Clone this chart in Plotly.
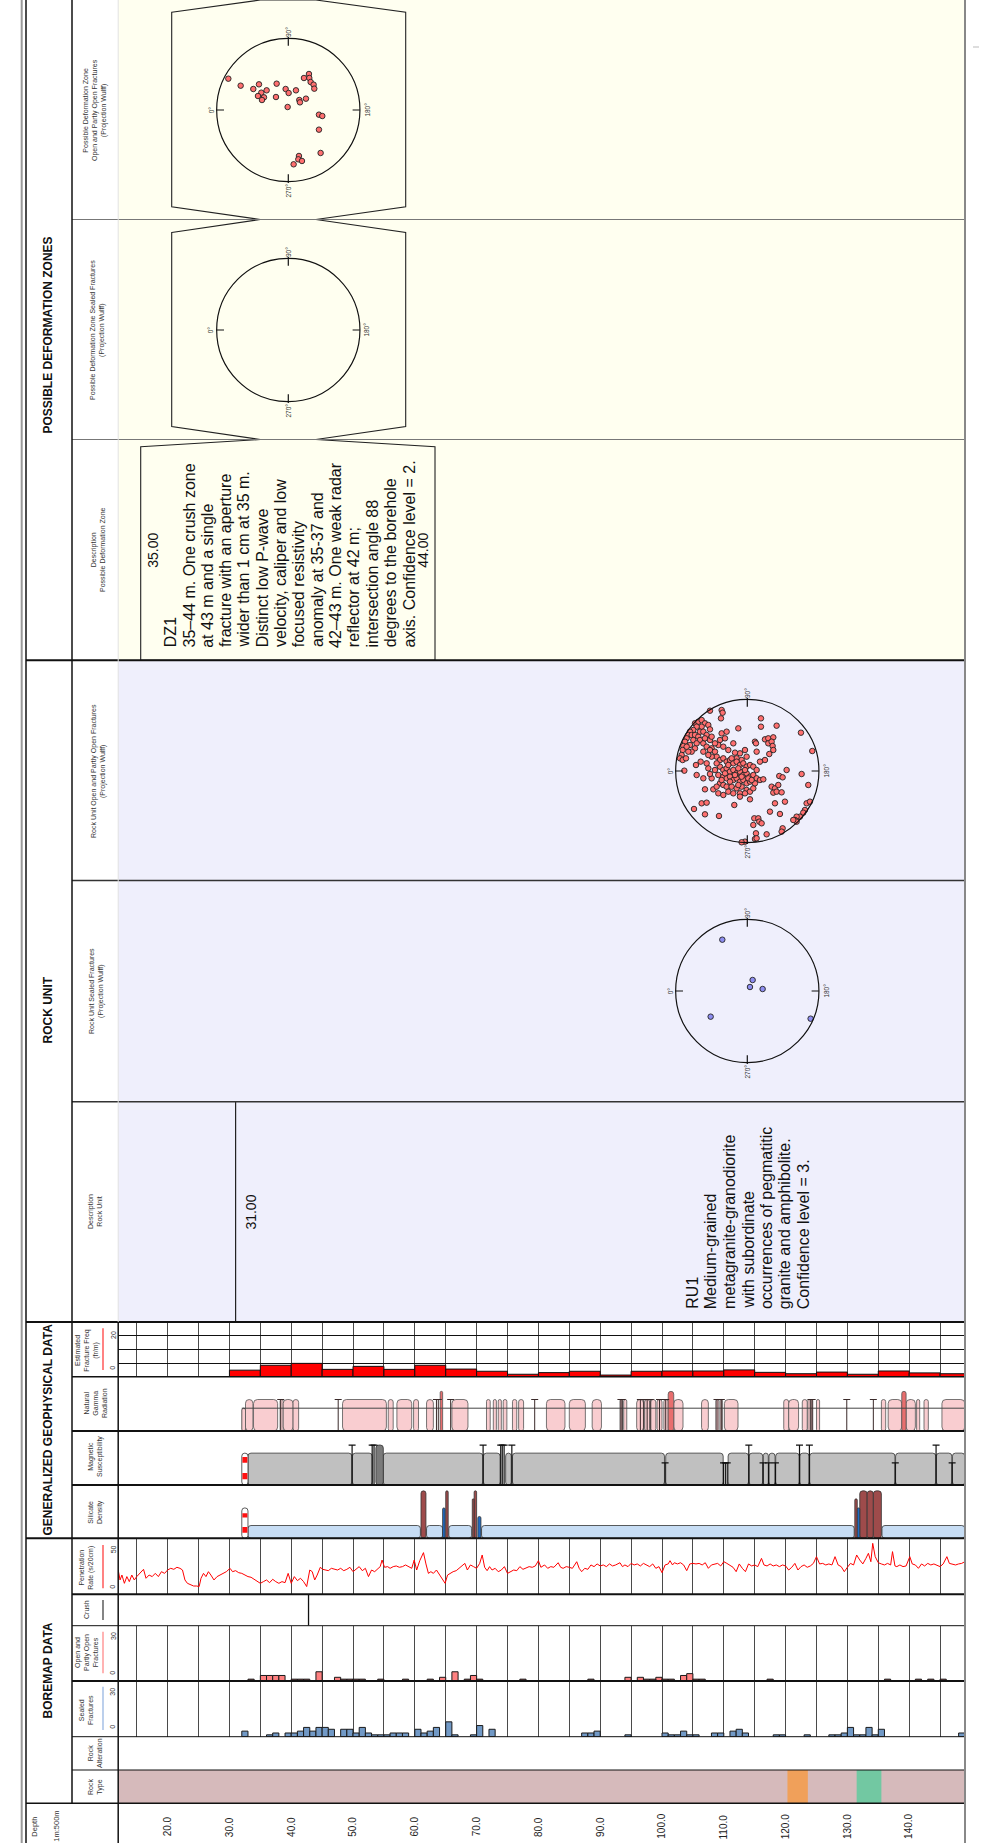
import plotly.graph_objects as go

# ======================= DATA =======================
DEPTH_MIN, DEPTH_MAX = 12.0, 149.0
depth_ticks = [20, 30, 40, 50, 60, 70, 80, 90, 100, 110, 120, 130, 140]
depth_tick_labels = ["20.0", "30.0", "40.0", "50.0", "60.0", "70.0", "80.0",
                     "90.0", "100.0", "110.0", "120.0", "130.0", "140.0"]

# Rock type intervals
rock_type_start = [12.0, 120.3, 131.5]
rock_type_end = [149.0, 123.6, 135.5]
rock_type_color = ["#D6BABB", "#F0A05A", "#72C8A2"]

# Sealed fractures (1 m bins, count)
sealed_depth = [32, 36, 37, 39, 40, 41, 42, 43, 44, 45, 46, 48, 49, 50, 51, 52, 53, 54, 55, 56,
                57, 58, 60, 61, 62, 63, 65, 66, 69, 70, 72, 87, 88, 89, 94, 100, 101, 102, 103, 104,
                105, 108, 109, 111, 112, 113, 118, 119, 123, 127, 128, 129, 130, 131, 132, 133, 134, 135, 148]
sealed_count = [3, 1, 2, 2, 2, 3, 5, 3, 5, 5, 4, 4, 4, 2, 5, 2, 1, 1, 1, 2,
                2, 2, 4, 2, 3, 5, 8, 1, 1, 6, 4, 2, 2, 3, 1, 2, 1, 1, 3, 1,
                1, 2, 2, 3, 4, 2, 1, 1, 1, 1, 1, 2, 5, 1, 1, 5, 1, 4, 2]

# Open fractures (1 m bins)
open_depth = [35, 36, 37, 38, 44, 47, 64, 66, 69, 94, 96, 99, 103, 104]
open_count = [3, 3, 3, 3, 5, 2, 2, 5, 3, 2, 2, 2, 3, 4]
# Partly open fractures (1 m bins)
partly_depth = [33, 40, 41, 42, 48, 49, 50, 51, 54, 58, 62, 68, 70, 77, 88, 97, 98, 100, 101,
                105, 106, 117, 136, 141, 143, 145]
partly_count = [1] * 26

# Crush
crush_depth = [42.8]

# Penetration rate (s/20cm)
pen_depth = [12.0, 12.3, 12.6, 13.0, 13.4, 13.8, 14.2, 14.6, 15.0, 15.5, 16.1, 16.5, 17.0, 17.5, 18.0,
             18.5, 19.0, 19.5, 20.0, 20.5, 21.0, 21.5, 22.0, 22.4, 22.8, 23.2, 23.7, 24.2, 24.7, 25.1,
             25.4, 25.8, 26.2, 26.6, 27.0, 27.5, 28.0, 28.5, 29.0, 29.5, 30.1, 30.5, 31.0, 31.5, 32.0,
             32.5, 33.0, 33.5, 34.0, 34.5, 35.0, 35.5, 36.0, 36.5, 37.0, 37.5, 38.0, 38.5, 39.0, 39.5,
             40.0, 40.5, 41.0, 41.5, 42.0, 42.5, 43.0, 43.4, 43.8, 44.2, 44.7, 45.1, 45.5, 46.0, 46.5,
             47.0, 47.5, 48.0, 48.5, 49.0, 49.5, 50.0, 50.5, 51.0, 51.5, 52.0, 52.5, 53.0, 53.5, 54.0,
             54.4, 54.7, 55.1, 55.6, 56.0, 56.5, 57.0, 57.5, 58.0, 58.5, 59.0, 59.5, 59.9, 60.3, 60.8,
             61.4, 61.8, 62.2, 62.6, 63.0, 63.5, 64.0, 64.5, 64.9, 65.3, 65.7, 66.2, 66.7, 67.2, 67.6,
             68.1, 68.5, 69.0, 69.5, 70.0, 70.5, 70.9, 71.3, 71.7, 72.1, 72.5, 73.0, 73.5, 74.0, 74.5,
             75.0, 75.5, 76.0, 76.5, 77.0, 77.5, 78.0, 78.5, 79.0, 79.5, 80.0, 80.4, 81.0, 81.5, 82.0,
             82.5, 83.2, 83.6, 84.0, 84.5, 85.0, 85.5, 86.2, 86.6, 87.0, 87.5, 88.0, 88.5, 89.0, 89.5,
             90.0, 90.5, 91.0, 91.5, 92.0, 92.5, 93.2, 93.6, 94.0, 94.5, 95.0, 95.5, 96.0, 96.5, 97.0,
             97.5, 98.0, 98.5, 99.0, 99.5, 100.0, 100.5, 101.0, 101.3, 101.7, 102.0, 102.5, 103.0, 103.5, 104.0,
             104.5, 105.0, 105.5, 106.0, 106.5, 107.0, 107.5, 108.0, 108.5, 109.0, 109.5, 110.0, 110.5, 111.0, 111.5,
             112.0, 112.5, 113.0, 113.5, 114.0, 114.5, 115.0, 115.5, 116.1, 116.5, 117.0, 117.5, 118.0, 118.5, 119.0,
             119.5, 120.0, 120.5, 121.0, 121.5, 122.0, 122.5, 123.0, 123.5, 124.0, 124.5, 125.0, 125.5, 126.0, 126.5,
             127.0, 127.5, 128.0, 128.5, 129.0, 129.5, 130.0, 130.5, 131.0, 131.5, 132.0, 132.5, 133.0, 133.4, 133.8,
             134.1, 134.5, 135.0, 135.5, 136.0, 136.5, 137.0, 137.3, 137.7, 138.0, 138.5, 139.0, 139.5, 140.1, 140.5,
             141.0, 141.5, 142.0, 142.5, 143.0, 143.5, 144.0, 144.5, 145.0, 145.5, 146.1, 146.5, 147.0, 147.5, 148.0,
             148.5, 149.0]
pen_rate = [21.7, 12.8, 17.2, 9.8, 15.8, 11.3, 17.2, 12.8, 15.8, 18.7, 22.3, 14.3, 17.2, 15.8, 18.7,
            15.8, 20.2, 18.7, 21.7, 23.2, 22.3, 24.1, 23.2, 21.7, 12.8, 9.8, 8.3, 7.4, 7.4, 6.9,
            14.3, 18.7, 15.8, 20.2, 17.2, 12.8, 15.8, 17.2, 18.7, 20.2, 23.2, 20.2, 21.1, 19.3, 18.7,
            17.2, 15.8, 15.2, 13.4, 12.2, 9.8, 11.3, 12.8, 10.4, 13.4, 11.3, 9.8, 11.3, 10.4, 18.7,
            9.8, 15.8, 12.2, 14.3, 11.3, 6.9, 21.7, 20.2, 12.8, 17.2, 24.1, 22.3, 21.7, 21.1, 23.2,
            22.3, 21.7, 23.2, 21.1, 22.3, 24.1, 20.2, 22.3, 24.7, 21.1, 23.2, 15.8, 21.7, 20.2, 23.2,
            24.7, 30.6, 24.1, 24.7, 23.2, 24.7, 25.3, 24.1, 24.7, 26.2, 24.7, 23.2, 30.6, 21.7, 30.0,
            37.2, 27.1, 18.7, 20.2, 18.7, 21.7, 17.2, 12.8, 9.8, 17.2, 18.7, 20.2, 21.1, 23.2, 24.7,
            27.6, 21.7, 26.2, 24.7, 23.2, 27.6, 35.1, 24.1, 21.1, 24.7, 21.7, 23.2, 20.2, 21.7, 24.7,
            18.7, 20.2, 21.7, 21.1, 24.7, 22.3, 23.2, 24.7, 24.1, 25.3, 30.0, 24.1, 26.2, 23.2, 24.7,
            24.1, 28.2, 24.1, 23.2, 24.7, 24.1, 23.2, 29.1, 23.2, 20.2, 23.2, 22.3, 26.2, 24.7, 27.1,
            25.3, 26.2, 24.7, 27.1, 25.3, 26.2, 28.2, 24.7, 26.2, 24.7, 27.6, 26.2, 27.1, 25.3, 27.6,
            26.2, 24.7, 27.1, 23.2, 24.7, 19.3, 26.2, 27.1, 30.0, 26.2, 28.2, 27.1, 28.2, 26.2, 21.1,
            27.1, 27.6, 27.1, 27.6, 26.2, 28.2, 23.2, 26.2, 27.1, 27.6, 25.3, 29.1, 27.6, 26.2, 24.1,
            20.2, 27.1, 23.2, 20.2, 27.1, 25.3, 26.2, 24.7, 32.1, 26.2, 25.3, 27.1, 25.3, 26.2, 24.7,
            26.2, 25.3, 21.7, 24.1, 27.6, 21.7, 24.7, 26.2, 24.1, 25.3, 27.6, 33.6, 27.1, 27.6, 26.2,
            27.1, 26.2, 33.6, 26.2, 24.7, 20.2, 24.1, 27.6, 26.2, 35.1, 30.6, 27.1, 32.1, 36.6, 29.1,
            45.5, 33.6, 28.2, 27.1, 26.2, 27.6, 26.2, 38.1, 25.3, 24.7, 26.2, 24.7, 25.3, 33.6, 27.1,
            26.2, 23.2, 27.1, 25.3, 27.6, 26.2, 27.1, 26.2, 24.7, 27.1, 33.6, 27.6, 27.1, 26.2, 27.1,
            27.6, 29.1]

# Estimated fracture frequency (fr/m), 5 m bins
fq_start = [30, 35, 40, 45, 50, 55, 60, 65, 70, 75, 80, 85, 90, 95, 100, 105, 110, 115, 120, 125,
            130, 135, 140, 145]
fq_value = [2.4, 4.2, 4.9, 2.7, 3.8, 2.7, 4.2, 2.8, 2.0, 0.9, 1.5, 2.0, 0.6, 2.0, 2.1, 2.1, 2.5, 1.6,
            1.1, 1.7, 0.9, 2.1, 1.4, 1.1]

# Silicate density classes (start, end, relative level, class)
sil_start = [33.0, 61.9, 65.5, 70.8, 135.6, 61.0, 65.0, 69.6, 132.0, 133.2, 134.2, 69.3, 131.2,
             64.5, 70.2, 131.6]
sil_end = [60.9, 64.5, 69.2, 131.1, 149.0, 61.8, 65.4, 70.0, 133.2, 134.2, 135.5, 69.6, 131.6,
           64.9, 70.7, 132.0]
sil_level = [0.24, 0.24, 0.24, 0.24, 0.24, 0.89, 0.89, 0.89, 0.89, 0.89, 0.89, 0.74, 0.74,
             0.57, 0.41, 0.57]
sil_class = ["low"] * 5 + ["high"] * 8 + ["mid"] * 3

# Magnetic susceptibility
mag_seg_start = [33.0, 49.9, 54.9, 71.1, 74.7, 75.8, 100.6, 110.7, 114.1, 116.4, 117.3, 118.4,
                 122.3, 123.9, 137.8, 144.4, 147.0]
mag_seg_end = [49.8, 53.1, 71.0, 73.8, 75.6, 100.4, 109.9, 114.0, 116.3, 117.2, 118.3, 122.2,
               123.8, 137.7, 144.3, 146.9, 149.0]
mag_seg_level = 0.59
mag_dark_start, mag_dark_end, mag_dark_level = [53.7], [54.9], [0.74]
mag_tall_lines = [49.85, 53.1, 53.4, 71.05, 73.9, 74.15, 74.45, 75.7, 114.05, 122.25, 123.85, 144.35]
mag_tall_level = 0.74
mag_mid_lines = [100.5, 109.95, 110.25, 110.55, 116.35, 117.25, 118.35, 137.75, 146.95]
mag_mid_level = 0.41

# Natural gamma radiation
gam_box_start = [32.6, 33.9, 38.2, 38.7, 40.3, 48.3, 55.7, 57.1, 59.8, 61.9, 66.0, 71.6, 72.7, 73.5,
                 74.3, 75.8, 76.8, 81.3, 85.0, 88.7, 93.2, 93.8, 95.9, 97.2, 98.2, 99.2, 100.3, 101.9,
                 106.4, 108.7, 109.4, 110.1, 119.7, 120.5, 122.7, 123.6, 124.0, 125.0, 135.5, 136.6,
                 139.5, 141.2, 142.4, 145.3]
gam_box_end = [33.8, 37.8, 38.7, 40.3, 41.2, 55.4, 56.5, 59.5, 60.6, 63.0, 68.6, 72.2, 73.2, 74.0,
               74.9, 76.5, 77.6, 84.3, 87.6, 90.2, 93.6, 94.3, 97.0, 98.0, 99.0, 100.0, 101.0, 103.4,
               107.5, 109.2, 109.8, 112.3, 120.5, 122.1, 123.5, 124.0, 124.4, 125.5, 136.2, 138.8,
               141.0, 141.7, 143.1, 149.0]
gam_box_level = 0.58
gam_low_start, gam_low_end, gam_low_level = [32.0], [32.6], [0.42]
gam_high_start = [64.1, 101.0, 138.8]
gam_high_end = [64.5, 101.9, 139.5]
gam_high_level = 0.73
gam_lines = [38.3, 47.6, 63.5, 63.8, 65.8, 79.4, 93.35, 93.55, 96.5, 97.05, 97.6, 98.1, 99.6,
             100.6, 108.9, 109.6, 124.1, 124.3, 129.9, 134.2]
gam_line_level = 0.58
gam_base_start, gam_base_end, gam_base_level = 32.0, 149.0, 0.42

# Uncertain-start marker (red/white) in silicate & magnetic tracks
marker_start, marker_end = 32.0, 33.0

# Stereonets (projection units, primitive radius = 215)
R_NET = 215
ru_open_pts = [(-112, 181), (-77, 183), (-74, 175), (-79, 158), (-157, 143), (-147, 148), (-137, 153),
               (-127, 143), (-117, 138), (-112, 125), (-137, 133), (-152, 133), (-162, 123), (-172, 118),
               (-177, 108), (-182, 98), (-187, 88), (-192, 75), (-194, 63), (-197, 48), (-202, 38),
               (-194, 33), (-184, 38), (-189, 1), (-167, 108), (-157, 108), (-147, 103), (-142, 93),
               (-132, 83), (-122, 73), (-107, 68), (-162, 93), (-152, 83), (-157, 68), (-132, 58),
               (-112, 63), (-77, 113), (-62, 118), (-27, 128), (-67, 98), (-82, 93), (-87, 78), (-72, 73),
               (-57, 63), (-42, 83), (-22, 53), (-37, 55), (-32, 38), (-17, 33), (-2, 43), (-7, 63),
               (-92, 43), (-82, 33), (-72, 38), (-62, 28), (-52, 33), (-42, 23), (-32, 28), (-22, 18),
               (-12, 23), (-2, 13), (8, 18), (18, 13), (28, 3), (-82, 13), (-72, 3), (-62, 8), (-52, -2),
               (-42, 3), (-32, -7), (-22, -2), (-12, -12), (-2, -7), (8, -17), (18, -12), (28, -22),
               (-97, 3), (-87, -12), (-72, -17), (-62, -22), (-52, -17), (-42, -27), (-32, -22),
               (-22, -32), (-12, -27), (-2, -37), (8, -32), (-82, -37), (-72, -42), (-62, -47),
               (-47, -47), (-32, -52), (-17, -47), (-2, -57), (-22, -67), (-22, -77), (-7, -67),
               (8, -62), (18, -52), (23, -37), (38, -27), (48, -25), (-107, -22), (-127, -55),
               (-102, -55), (-87, -67), (-72, -72), (-57, -62), (-42, -67), (-152, -12), (-132, -22),
               (-117, 8), (-112, -9), (-122, 23), (-140, 28), (-154, 18), (-92, 23), (-97, 58),
               (41, 158), (41, 133), (88, 136), (23, 88), (26, 83), (53, 95), (63, 98), (78, 101),
               (63, 83), (73, 88), (76, 75), (78, 63), (66, 51), (53, 33), (38, 28), (28, 58),
               (161, 115), (195, 60), (118, 3), (163, -9), (96, -15), (106, -19), (73, -47), (83, -52),
               (78, -65), (88, -62), (93, -42), (103, -64), (113, -92), (83, -97), (68, -122), (98, -129),
               (183, -42), (178, -97), (188, -92), (173, -117), (168, -125), (158, -137), (148, -137),
               (143, -147), (148, -152), (138, -147), (106, -172), (103, -182), (58, -190), (21, -142),
               (33, -142), (36, -152), (18, -162), (43, -157), (26, -187), (23, -204), (28, -202),
               (-7, -212), (-17, -214), (8, -85), (-39, -102), (-160, -114), (-137, -97), (-122, -95),
               (-127, -130), (-85, -135), (-47, 38), (-57, 18), (-27, 8), (-37, -12), (-17, -17),
               (-7, 3), (3, -22), (13, -27), (-67, -7), (-77, -27), (-27, -42), (-52, -32), (-92, -47),
               (-107, 43), (-117, 48), (-172, 78), (-167, 58), (-177, 58), (-182, 73), (-142, 118),
               (-132, 118), (-122, 108), (-127, 98), (-112, 93), (-97, 83), (-107, 103)]
ru_sealed_pts = [(-75, 154), (16, 33), (8, 12), (46, 6), (-110, -77), (190, -83)]
dz_open_pts = [(-180, 94), (-143, 73), (-105, 63), (-88, 77), (-81, 52), (-91, 42), (-73, 38),
               (-79, 30), (-65, 59), (-35, 79), (-37, 39), (-8, 63), (1, 51), (23, 59), (-2, 9),
               (33, 30), (35, 23), (53, 34), (47, 96), (62, 108), (63, 96), (67, 84), (76, 76),
               (78, 64), (92, -14), (102, -18), (92, -59), (97, -129), (32, -138), (30, -148),
               (41, -153), (16, -163)]
dz_sealed_pts = []

# Descriptions
ru_top = 31.0
ru_lines = ["RU1", "Medium-grained", "metagranite-granodiorite", "with subordinate",
            "occurrences of pegmatitic", "granite and amphibolite.", "Confidence level = 3."]
dz_top, dz_bottom = 35.0, 44.0
dz_lines = ["DZ1", "35–44 m. One crush zone", "at 43 m and a single", "fracture with an aperture",
            "wider than 1 cm at 35 m.", "Distinct low P-wave", "velocity, caliper and low",
            "focused resistivity", "anomaly at 35-37 and", "42–43 m. One weak radar",
            "reflector at 42 m;", "intersection angle 88", "degrees to the borehole",
            "axis. Confidence level = 2."]

# ======================= LAYOUT HELPERS =======================
W, H = 986, 1843
X_LEFT, X_RIGHT = 118.2, 964.8


def fx(px):
    return px / W


def fy(py):
    return 1 - py / H


def dpx(d):
    return X_LEFT + (d - DEPTH_MIN) * (X_RIGHT - X_LEFT) / (DEPTH_MAX - DEPTH_MIN)


def xr(n):
    return "x" if n == 1 else f"x{n}"


def yr(n):
    return "y" if n == 1 else f"y{n}"


def axkey(letter, n):
    return f"{letter}axis" if n == 1 else f"{letter}axis{n}"


FONT = "Liberation Sans, Arial, Helvetica, sans-serif"
layout = dict(width=W, height=H, margin=dict(l=0, r=0, t=0, b=0, pad=0), autosize=False,
              paper_bgcolor="white", plot_bgcolor="rgba(0,0,0,0)", showlegend=False,
              barmode="overlay", font=dict(family=FONT, color="#222"), hovermode=False)

# track: n -> (top px, bottom px, y range, x grid, y grid)
tracks = {
    1: (1681.0, 1736.7, [0, 30], True, False),     # sealed fractures
    2: (1625.7, 1681.0, [0, 30], True, False),     # open fractures
    3: (1594.3, 1625.7, [0, 1], False, False),     # crush
    4: (1538.3, 1594.3, [0, 50], True, False),     # penetration rate
    5: (1485.0, 1538.3, [0, 1], False, False),     # silicate density
    6: (1431.0, 1485.0, [0, 1], False, False),     # magnetic susceptibility
    7: (1376.7, 1431.0, [0, 1], False, False),     # natural gamma
    8: (1322.3, 1376.7, [0, 20], True, True),      # est. fracture freq
    9: (1770.0, 1803.3, [0, 1], False, False),     # rock type
    10: (1101.7, 1322.0, [0, 1], False, False),    # rock unit description
    16: (1803.3, 1843.0, [0, 1], False, False),    # depth labels
}
for n, (top, bot, yrange, xg, yg) in tracks.items():
    layout[axkey("x", n)] = dict(domain=[fx(X_LEFT), fx(X_RIGHT)], range=[DEPTH_MIN, DEPTH_MAX],
                                 anchor=yr(n), showgrid=xg, gridcolor="#4a4a4a", gridwidth=1,
                                 tick0=0, dtick=5, showticklabels=False, ticks="", zeroline=False,
                                 showline=False, fixedrange=True)
    layout[axkey("y", n)] = dict(domain=[fy(bot), fy(top)], range=yrange, anchor=xr(n),
                                 showgrid=yg, gridcolor="#111", gridwidth=1, tick0=0, dtick=5,
                                 showticklabels=False, ticks="", zeroline=False, showline=False,
                                 fixedrange=True)

# stereonet subplots: n -> (center x px, center y px)
NET_HALF_PX = 93.3
NET_RANGE = 280
nets = {12: (747.3, 771.0), 13: (747.3, 991.0), 14: (288.3, 110.0), 15: (288.3, 330.0)}
for n, (cx, cy) in nets.items():
    layout[axkey("x", n)] = dict(domain=[fx(cx - NET_HALF_PX), fx(cx + NET_HALF_PX)],
                                 range=[-NET_RANGE, NET_RANGE], anchor=yr(n), visible=False,
                                 fixedrange=True)
    layout[axkey("y", n)] = dict(domain=[fy(cy + NET_HALF_PX), fy(cy - NET_HALF_PX)],
                                 range=[-NET_RANGE, NET_RANGE], anchor=xr(n), visible=False,
                                 fixedrange=True)

fig = go.Figure()
shapes = []
annotations = []


def add_interval_bars(n, starts, ends, levels, color, line_color="#333", line_width=0.8,
                      radius=0, bases=None):
    if not isinstance(levels, (list, tuple)):
        levels = [levels] * len(starts)
    if bases is None:
        bases = [0] * len(starts)
    fig.add_trace(go.Bar(
        x=[(s + e) / 2 for s, e in zip(starts, ends)],
        y=[lv - b for lv, b in zip(levels, bases)],
        base=bases,
        width=[e - s for s, e in zip(starts, ends)],
        marker=dict(color=color, line=dict(color=line_color, width=line_width), cornerradius=radius),
        xaxis=xr(n), yaxis=yr(n), hoverinfo="skip"))


def add_tick_lines(n, depths, level, color="#111", width=1.2):
    xs, ys = [], []
    for d in depths:
        xs += [d, d, None]
        ys += [0, level, None]
    fig.add_trace(go.Scatter(x=xs, y=ys, mode="lines", line=dict(color=color, width=width),
                             xaxis=xr(n), yaxis=yr(n), hoverinfo="skip"))
    fig.add_trace(go.Scatter(x=depths, y=[level] * len(depths), mode="markers",
                             marker=dict(symbol="line-ew", size=5, line=dict(color=color, width=1.2)),
                             xaxis=xr(n), yaxis=yr(n), hoverinfo="skip"))


def ann(text, x, y, xref="paper", yref="paper", size=7, color="#333", xanchor="center",
        yanchor="middle", **kw):
    annotations.append(dict(x=x, y=y, xref=xref, yref=yref, text=text, textangle=-90,
                            showarrow=False, xanchor=xanchor, yanchor=yanchor,
                            font=dict(size=size, color=color), **kw))


# ---------------- backgrounds ----------------
shapes.append(dict(type="rect", xref="paper", yref="paper", x0=fx(118), x1=fx(965), y0=fy(660.3),
                   y1=fy(0), fillcolor="#FFFFF0", line=dict(width=0), layer="below"))
shapes.append(dict(type="rect", xref="paper", yref="paper", x0=fx(118), x1=fx(965), y0=fy(1322),
                   y1=fy(660.3), fillcolor="#EFEFFC", line=dict(width=0), layer="below"))

# ---------------- rock type ----------------
for s, e, c in zip(rock_type_start, rock_type_end, rock_type_color):
    add_interval_bars(9, [s], [e], [1.0], c, line_color=c, line_width=0)

# ---------------- sealed / open fractures ----------------
fig.add_trace(go.Bar(x=[d + 0.5 for d in sealed_depth], y=sealed_count, width=1.0,
                     marker=dict(color="#7199C6", line=dict(color="#1a1a1a", width=1)),
                     xaxis=xr(1), yaxis=yr(1), hoverinfo="skip"))
fig.add_trace(go.Bar(x=[d + 0.5 for d in open_depth], y=open_count, width=1.0,
                     marker=dict(color="#FF8080", line=dict(color="#1a1a1a", width=1)),
                     xaxis=xr(2), yaxis=yr(2), hoverinfo="skip"))
fig.add_trace(go.Bar(x=[d + 0.5 for d in partly_depth], y=partly_count, width=1.0,
                     marker=dict(color="#7A2E2E", line=dict(color="#1a1a1a", width=1)),
                     xaxis=xr(2), yaxis=yr(2), hoverinfo="skip"))

# ---------------- crush ----------------
for d in crush_depth:
    fig.add_trace(go.Scatter(x=[d, d], y=[0, 1], mode="lines", line=dict(color="#111", width=1.3),
                             xaxis=xr(3), yaxis=yr(3), hoverinfo="skip"))

# ---------------- penetration ----------------
fig.add_trace(go.Scatter(x=pen_depth, y=pen_rate, mode="lines", line=dict(color="#FF0000", width=1),
                         xaxis=xr(4), yaxis=yr(4), hoverinfo="skip"))

# ---------------- silicate density ----------------
sil_colors = {"low": "#C7DDF4", "high": "#9E4B4B", "mid": "#1F6BC4"}
for cls in ["low", "high", "mid"]:
    idx = [i for i, c in enumerate(sil_class) if c == cls]
    add_interval_bars(5, [sil_start[i] for i in idx], [sil_end[i] for i in idx],
                      [sil_level[i] for i in idx], sil_colors[cls], radius=3)
# red / white uncertainty marker
add_interval_bars(5, [marker_start], [marker_end], [0.57], "white", radius=3)
add_interval_bars(5, [marker_start + 0.1] * 2, [marker_end - 0.1] * 2, [0.21, 0.47], "#FF1010",
                  line_width=0, bases=[0.105, 0.39])

# ---------------- magnetic susceptibility ----------------
add_interval_bars(6, mag_seg_start, mag_seg_end, mag_seg_level, "#C0C0C0", radius=3)
add_interval_bars(6, mag_dark_start, mag_dark_end, mag_dark_level, "#7A7A7A", radius=3)
add_tick_lines(6, mag_tall_lines, mag_tall_level)
add_tick_lines(6, mag_mid_lines, mag_mid_level)
add_interval_bars(6, [marker_start], [marker_end], [0.59], "white", radius=3)
add_interval_bars(6, [marker_start + 0.1] * 2, [marker_end - 0.1] * 2, [0.22, 0.52], "#FF1010",
                  line_width=0, bases=[0.105, 0.41])

# ---------------- natural gamma ----------------
fig.add_trace(go.Scatter(x=[gam_base_start, gam_base_end], y=[gam_base_level] * 2, mode="lines",
                         line=dict(color="#444", width=1), xaxis=xr(7), yaxis=yr(7), hoverinfo="skip"))
add_interval_bars(7, gam_low_start, gam_low_end, gam_low_level, "#F9CDD0", radius=2)
add_interval_bars(7, gam_box_start, gam_box_end, gam_box_level, "#F9CDD0", line_color="#555", radius=4)
add_interval_bars(7, gam_high_start, gam_high_end, gam_high_level, "#E86E6E", line_color="#555", radius=3)
add_tick_lines(7, gam_lines, gam_line_level, color="#3a2a2a", width=1)

# ---------------- estimated fracture frequency ----------------
fig.add_trace(go.Bar(x=[s + 2.5 for s in fq_start], y=fq_value, width=5.0,
                     marker=dict(color="#FF0000", line=dict(color="#111", width=1)),
                     xaxis=xr(8), yaxis=yr(8), hoverinfo="skip"))

# ---------------- rock unit description ----------------
shapes.append(dict(type="line", xref=xr(10), yref="paper", x0=ru_top, x1=ru_top, y0=fy(1322),
                   y1=fy(1101.7), line=dict(color="#222", width=1.2)))
ann(f"{ru_top:.2f}", ru_top, fy(1212), xref=xr(10), size=14, color="#111", xanchor="left", xshift=5)
RU_LINE0_PX, LINE_STEP = 691.7, 18.6
for i, t in enumerate(ru_lines):
    ann(t, fx(RU_LINE0_PX + i * LINE_STEP), fy(1311), size=16, color="#111", yanchor="bottom")

# ---------------- deformation zone callouts ----------------
w0, w1 = dpx(dz_top), dpx(dz_bottom)
net_l, net_r = 171.7, 405.7
desc_l, desc_r = 140.7, 435.0


def poly(pts):
    return "M " + " L ".join(f"{fx(a):.5f},{fy(b):.5f}" for a, b in pts) + " Z"


callouts = [
    [(net_l, 12.3), (w0, 0), (w1, 0), (net_r, 12.3), (net_r, 206.7), (w1, 219.5), (w0, 219.5), (net_l, 206.7)],
    [(net_l, 232.5), (w0, 219.5), (w1, 219.5), (net_r, 232.5), (net_r, 426.5), (w1, 439.5), (w0, 439.5), (net_l, 426.5)],
    [(desc_l, 446.7), (w0, 439.5), (w1, 439.5), (desc_r, 446.7), (desc_r, 660.3), (desc_l, 660.3)],
]
for pts in callouts:
    shapes.append(dict(type="path", xref="paper", yref="paper", path=poly(pts),
                       fillcolor="#FFFFF0", line=dict(color="#222", width=1.1), layer="below"))

ann(f"{dz_top:.2f}", fx(152.7), fy(550), size=14, color="#111")
ann(f"{dz_bottom:.2f}", fx(422.7), fy(550), size=14, color="#111")
DZ_LINE0_PX, DZ_STEP = 170.7, 18.3
for i, t in enumerate(dz_lines):
    ann(t, fx(DZ_LINE0_PX + i * DZ_STEP), fy(649.5), size=16, color="#111", yanchor="bottom")

# ---------------- stereonets ----------------
net_points = {12: (ru_open_pts, "#FF6F6F"), 13: (ru_sealed_pts, "#8D8DF0"),
              14: (dz_open_pts, "#FF6F6F"), 15: (dz_sealed_pts, "#FF6F6F")}
TICK = 22
for n, (pts, col) in net_points.items():
    shapes.append(dict(type="circle", xref=xr(n), yref=yr(n), x0=-R_NET, x1=R_NET, y0=-R_NET, y1=R_NET,
                       line=dict(color="#111", width=1.2)))
    for (x0, y0, x1, y1) in [(0, R_NET + 4, 0, R_NET - TICK), (0, -R_NET - 4, 0, -R_NET + TICK),
                             (-R_NET, 0, -R_NET + TICK, 0), (R_NET, 0, R_NET - TICK, 0)]:
        shapes.append(dict(type="line", xref=xr(n), yref=yr(n), x0=x0, y0=y0, x1=x1, y1=y1,
                           line=dict(color="#111", width=1.2)))
    for (tx, ty, txt) in [(0, R_NET + 20, "90°"), (-R_NET - 16, 0, "0°"), (R_NET + 20, 0, "180°"),
                          (0, -R_NET - 26, "270°")]:
        ann(txt, tx, ty, xref=xr(n), yref=yr(n), size=6.5, color="#333")
    if pts:
        fig.add_trace(go.Scatter(x=[p[0] for p in pts], y=[p[1] for p in pts], mode="markers",
                                 marker=dict(size=5.5, color=col, line=dict(color="#222", width=0.9)),
                                 xaxis=xr(n), yaxis=yr(n), hoverinfo="skip"))

# ---------------- frame lines ----------------
hlines = [(219.5, 72, "#777", 1), (439.5, 72, "#777", 1), (660.3, 26, "#111", 2),
          (880.5, 72, "#333", 1.5), (1101.7, 72, "#333", 1.5), (1322.0, 26, "#111", 2),
          (1376.7, 72, "#111", 1.5), (1431.0, 72, "#111", 2), (1485.0, 72, "#111", 2),
          (1538.3, 26, "#111", 2), (1594.3, 72, "#111", 2), (1625.7, 72, "#111", 1),
          (1681.0, 72, "#111", 2), (1736.7, 72, "#111", 1), (1770.0, 72, "#111", 1),
          (1803.3, 26, "#111", 1.5)]
for (y, x0, c, w) in hlines:
    shapes.append(dict(type="line", xref="paper", yref="paper", x0=fx(x0), x1=fx(965), y0=fy(y), y1=fy(y),
                       line=dict(color=c, width=w), layer="above"))
vlines = [(21.7, 0, 1843, "#999", 2), (26, 0, 1843, "#111", 1.5), (72, 0, 1803.3, "#111", 1.5),
          (118.2, 1322, 1843, "#111", 1.5), (118.2, 0, 1322, "#E2E2E2", 1), (965, 0, 1843, "#888", 2)]
for (x, y0, y1, c, w) in vlines:
    shapes.append(dict(type="line", xref="paper", yref="paper", x0=fx(x), x1=fx(x), y0=fy(y0), y1=fy(y1),
                       line=dict(color=c, width=w), layer="above"))
# small page mark outside the frame (top right)
shapes.append(dict(type="line", xref="paper", yref="paper", x0=fx(973), x1=fx(979), y0=fy(47), y1=fy(47),
                   line=dict(color="#BBB", width=1)))

# legend swatch lines in the label column
for (y0, y1, c) in [(1328.3, 1370.0, "#FF3030"), (1545.0, 1588.3, "#FF3030"), (1600.0, 1620.0, "#333"),
                    (1631.7, 1673.3, "#FF8080"), (1686.7, 1730.0, "#8FB0E0")]:
    shapes.append(dict(type="line", xref="paper", yref="paper", x0=fx(103), x1=fx(103), y0=fy(y0),
                       y1=fy(y1), line=dict(color=c, width=1.2)))


# ---------------- texts ----------------
def label(text, x, y, size=7, color="#333", bold=False):
    ann(f"<b>{text}</b>" if bold else text, fx(x), fy(y), size=size, color=color)


label("POSSIBLE DEFORMATION ZONES", 47.5, 335, size=12, color="#111", bold=True)
label("ROCK UNIT", 47.5, 1010, size=12, color="#111", bold=True)
label("GENERALIZED GEOPHYSICAL DATA", 47.5, 1430, size=12, color="#111", bold=True)
label("BOREMAP DATA", 47.5, 1671, size=12, color="#111", bold=True)

label("Possible Deformation Zone<br>Open and Partly Open Fractures<br>(Projection Wulff)", 95, 110)
label("Possible Deformation Zone Sealed Fractures<br>(Projection Wulff)", 97, 330)
label("Description<br>Possible Deformation Zone", 98, 550)
label("Rock Unit Open and Partly Open Fractures<br>(Projection Wulff)", 98, 771)
label("Rock Unit Sealed Fractures<br>(Projection Wulff)", 97, 991)
label("Description<br>Rock Unit", 95, 1212)
label("Estimated<br>Fracture Freq<br>(fr/m)", 86.7, 1350)
label("Natural<br>Gamma<br>Radiation", 95, 1403)
label("Magnetic<br>Susceptibility", 95, 1457)
label("Silicate<br>Density", 95, 1512)
label("Penetration<br>Rate (s/20cm)", 85.7, 1568)
label("Crush", 86, 1610)
label("Open and<br>Partly Open<br>Fractures", 86, 1653)
label("Sealed<br>Fractures", 86, 1710)
label("Rock<br>Alteration", 95, 1753)
label("Rock<br>Type", 95, 1787)
for (t, y) in [("20", 1335), ("0", 1367.7), ("50", 1549.3), ("0", 1586.7), ("30", 1636), ("0", 1672.7),
               ("30", 1691.7), ("0", 1726.7)]:
    label(t, 113, y)
label("Depth", 35, 1826.7, size=7.5)
label("1m:500m", 57, 1826.7, size=7.5)

for d, t in zip(depth_ticks, depth_tick_labels):
    ann(t, d, fy(1826.7), xref=xr(16), size=10, color="#222")

layout["shapes"] = shapes
layout["annotations"] = annotations
fig.update_layout(**layout)
fig.write_html("out.html", config={"responsive": False, "displayModeBar": False},
               post_script="document.body.style.margin='0';document.body.style.padding='0';"
                           "document.documentElement.style.overflow='hidden';")
